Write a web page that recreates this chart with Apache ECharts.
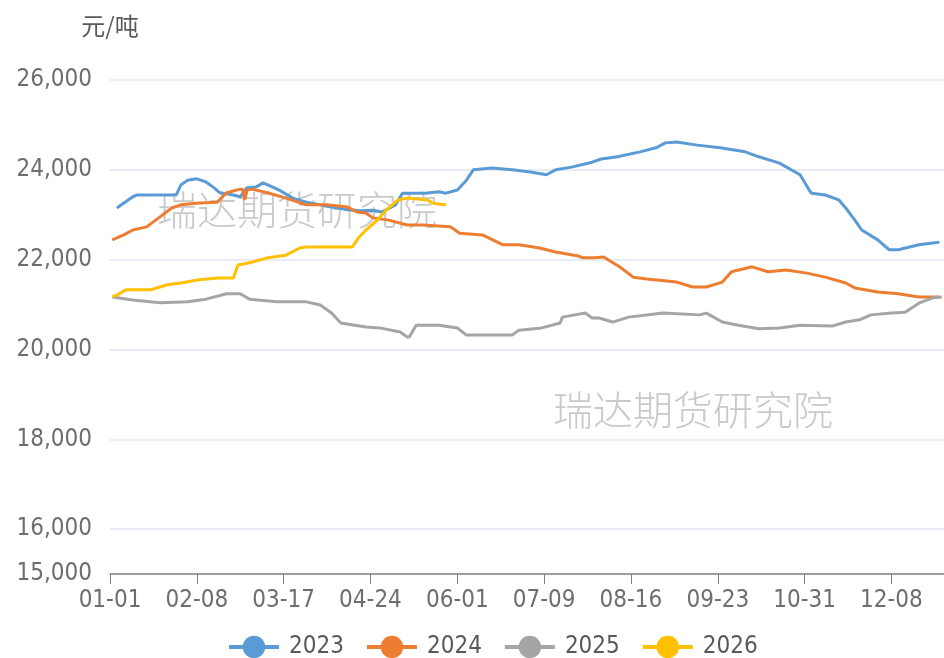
<!DOCTYPE html>
<html>
<head>
<meta charset="utf-8">
<script src="https://cdn.jsdelivr.net/npm/echarts@6/dist/echarts.min.js"></script>
<style>
  html, body { margin: 0; padding: 0; background: #fff; }
  #chart { width: 944px; height: 658px; }
</style>
</head>
<body>
<div id="chart"></div>
<script>
// 日期类目 (闰年 366 天)
var monthDays = [31, 29, 31, 30, 31, 30, 31, 31, 30, 31, 30, 31];
var days = [];
monthDays.forEach(function (n, m) {
  for (var d = 1; d <= n; d++) {
    days.push((m < 9 ? '0' : '') + (m + 1) + '-' + (d < 10 ? '0' : '') + d);
  }
});

var legendNames = ['2023', '2024', '2025', '2026'];
var colors = ['#5B9BD5', '#ED7D31', '#A5A5A5', '#FFC000'];

// [日序号, 元/吨]
var s2023 = [[3, 23150], [5, 23220], [10, 23400], [12, 23440], [19, 23440], [29, 23440], [31, 23660], [34, 23770],
  [38, 23800], [42, 23730], [45, 23620], [48, 23490], [54, 23440], [57, 23400], [60, 23600], [64, 23620],
  [67, 23710], [71, 23620], [74, 23550], [80, 23370], [86, 23280], [97, 23170], [104, 23110], [109, 23090],
  [115, 23100], [119, 23060], [125, 23220], [128, 23480], [138, 23480], [144, 23510], [147, 23480], [152, 23550],
  [156, 23770], [159, 24000], [167, 24040], [176, 24000], [184, 23950], [191, 23890], [195, 24000], [202, 24060],
  [211, 24170], [215, 24240], [222, 24290], [232, 24400], [239, 24490], [243, 24600], [248, 24620], [257, 24550],
  [267, 24490], [278, 24400], [284, 24290], [293, 24150], [302, 23890], [306, 23550], [307, 23480], [313, 23440],
  [319, 23330], [322, 23150], [326, 22880], [329, 22660], [336, 22440], [341, 22220], [345, 22220], [354, 22330],
  [360, 22370], [363, 22390]];

var s2024 = [[1, 22440], [6, 22550], [10, 22660], [16, 22730], [20, 22880], [27, 23150], [31, 23220], [39, 23260],
  [47, 23280], [51, 23490], [57, 23570], [58, 23570], [59, 23330], [60, 23550], [62, 23570], [69, 23490],
  [77, 23370], [86, 23220], [95, 23220], [104, 23170], [108, 23060], [112, 23040], [115, 22930], [122, 22880],
  [130, 22770], [137, 22770], [149, 22730], [153, 22590], [163, 22550], [172, 22330], [179, 22330], [188, 22260],
  [195, 22170], [205, 22080], [207, 22040], [212, 22040], [216, 22060], [223, 21840], [229, 21610], [235, 21570],
  [248, 21500], [255, 21390], [261, 21390], [268, 21500], [272, 21730], [281, 21840], [288, 21730], [296, 21770],
  [305, 21700], [313, 21610], [322, 21480], [326, 21370], [336, 21280], [345, 21240], [354, 21170], [363, 21170]];

var s2025 = [[1, 21170], [10, 21100], [22, 21040], [34, 21060], [42, 21120], [51, 21240], [57, 21240], [61, 21120],
  [73, 21060], [86, 21060], [92, 20990], [97, 20810], [99, 20700], [101, 20590], [112, 20500], [118, 20480],
  [127, 20390], [130, 20280], [131, 20280], [134, 20540], [144, 20540], [152, 20480], [156, 20320], [176, 20320],
  [179, 20430], [189, 20480], [197, 20590], [198, 20720], [208, 20810], [211, 20700], [214, 20700], [220, 20610],
  [227, 20720], [242, 20810], [258, 20770], [261, 20810], [268, 20610], [275, 20540], [284, 20460], [293, 20480],
  [302, 20540], [316, 20520], [322, 20610], [328, 20660], [333, 20770], [342, 20810], [348, 20830], [354, 21030],
  [360, 21150], [364, 21170]];

var s2026 = [[1, 21170], [3, 21210], [7, 21330], [18, 21330], [25, 21440], [31, 21480], [39, 21550], [47, 21590],
  [54, 21590], [56, 21880], [61, 21930], [69, 22040], [77, 22100], [83, 22260], [86, 22280], [98, 22280],
  [106, 22280], [109, 22500], [112, 22660], [117, 22880], [121, 23110], [126, 23330], [130, 23370], [139, 23330],
  [141, 23260], [146, 23220], [147, 23240]];

var allData = [s2023, s2024, s2025, s2026];
var textFont = '"DejaVu Sans Condensed", "Noto Sans", sans-serif';

var myChart = echarts.init(document.getElementById('chart'));

var option = {
  animation: false,
  color: colors,
  grid: {
    left: 110,
    top: 80,
    bottom: 84,
    width: 835
  },
  graphic: [
    {
      type: 'text', left: 157, top: 190, silent: true, z: 0,
      style: { text: '瑞达期货研究院', fontSize: 40, fill: '#c9c9c9', fontFamily: 'Noto Sans CJK SC', fontWeight: 300 }
    },
    {
      type: 'text', left: 553, top: 390, silent: true, z: 0,
      style: { text: '瑞达期货研究院', fontSize: 40, fill: '#c9c9c9', fontFamily: 'Noto Sans CJK SC', fontWeight: 300 }
    }
  ],
  legend: {
    data: legendNames,
    bottom: -6,
    left: 222,
    itemWidth: 50,
    itemHeight: 28,
    itemGap: 21,
    lineStyle: { width: 4 },
    textStyle: { fontSize: 24, color: '#595959', fontFamily: textFont, padding: [0, 0, 0, 5] }
  },
  xAxis: {
    type: 'category',
    boundaryGap: false,
    data: days,
    axisLine: { lineStyle: { color: '#7f7f7f', width: 1.5 } },
    axisTick: { interval: 37, length: 10, lineStyle: { color: '#7f7f7f' } },
    axisLabel: { interval: 37, margin: 15, fontSize: 24, color: '#6e6e6e', fontFamily: textFont },
    splitLine: { show: false }
  },
  yAxis: {
    type: 'value',
    min: 15000,
    max: 26000,
    interval: 1000,
    name: '元/吨',
    nameLocation: 'end',
    nameGap: 42,
    nameTextStyle: { fontSize: 24, color: '#595959', fontFamily: 'Noto Sans CJK SC', align: 'center' },
    axisLine: { show: false },
    axisTick: { show: false },
    axisLabel: {
      margin: 18,
      fontSize: 24,
      color: '#6e6e6e',
      fontFamily: textFont,
      formatter: function (v) {
        if (v !== 15000 && v % 2000 !== 0) return '';
        return v.toLocaleString('en-US');
      }
    },
    splitLine: {
      lineStyle: { color: ['rgba(0,0,0,0)', '#E0E6F1'], width: 1.5 }
    }
  },
  series: legendNames.map(function (name, i) {
    return {
      name: name,
      type: 'line',
      symbol: 'circle',
      showSymbol: false,
      z: 3,
      lineStyle: { width: 3, color: colors[i] },
      itemStyle: { color: colors[i] },
      data: allData[i]
    };
  })
};

myChart.setOption(option);
</script>
</body>
</html>
